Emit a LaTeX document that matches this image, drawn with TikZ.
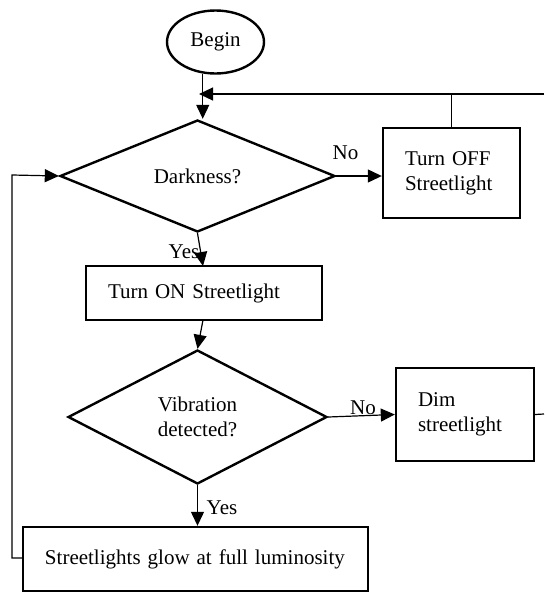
\documentclass[tikz,border=0pt]{standalone}
\usepackage{fontspec}
\setmainfont{Liberation Serif}
\usetikzlibrary{arrows.meta,shapes.geometric}

\begin{document}
\begin{tikzpicture}[x=1pt,y=-1pt,
    every node/.style={font=\rmfamily\fontsize{21}{25}\selectfont},
    box/.style={draw,line width=2.4pt,rectangle,inner xsep=22pt,inner ysep=0pt,align=left},
    decision/.style={draw,line width=2.4pt,diamond,inner sep=0pt,align=center},
    flowline/.style={line width=1.2pt,-{Triangle[length=14pt,width=13pt]}}]
    \useasboundingbox (0,0) rectangle (544,592);

    % nodes
    \node[draw,line width=2.4pt,ellipse,inner sep=0pt,minimum width=97pt,minimum height=63pt] (begin) at (215.5,42) {Begin};
    \node[decision,minimum width=275pt,minimum height=112pt] (dark) at (197.5,176) {Darkness?};
    \node[box,text width=93pt,minimum height=90pt] (off) at (451.5,173) {Turn OFF\\Streetlight};
    \node[box,text width=192pt,minimum height=54pt] (on) at (204,293) {Turn ON Streetlight};
    \node[decision,minimum width=259pt,minimum height=134pt] (vib) at (197.5,417) {Vibration\\detected?};
    \node[box,text width=94pt,minimum height=93pt] (dim) at (465,414.5) {Dim\\streetlight};
    \node[box,text width=301pt,minimum height=64pt] (full) at (195.5,559) {Streetlights glow at full luminosity};

    \coordinate (topright) at (544,94);
    \coordinate (dimright) at (544,414);
    \coordinate (leftturn) at (12,558);
    \coordinate (lefttop) at (12,175);

    % connectors
    \draw[flowline] (begin.248) -- (begin.248 |- dark.north);
    \draw[flowline] (topright) -- (199,94);
    \draw[line width=1.2pt] (off.north) -- (off.north |- topright);
    \draw[flowline] (dark.east) -- (off.west |- dark.east);
    \draw[flowline] (dark.south) -- (203,266);
    \draw[flowline] (203,320) -- (vib.north);
    \draw[flowline] (vib.east) -- (dim.west);
    \draw[line width=1.2pt] (dim.east) -- (dimright);
    \draw[flowline] (vib.south) -- (full.north -| vib.south);
    \draw[flowline] (full.west |- leftturn) -- (leftturn) -- (lefttop) -- (dark.west);

    % labels
    \node (no1) at (345.5,153) {No};
    \node (yes1) at (184,252) {Yes};
    \node (no2) at (363,408) {No};
    \node (yes2) at (222,508) {Yes};
\end{tikzpicture}
\end{document}
